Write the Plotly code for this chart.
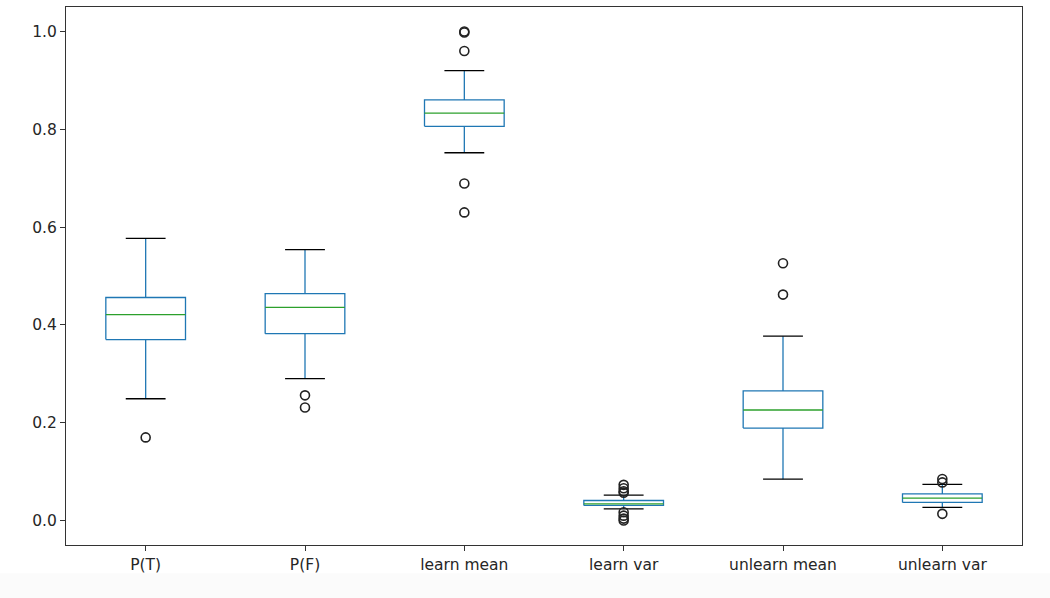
import plotly.graph_objects as go

categories = ["P(T)", "P(F)", "learn mean", "learn var", "unlearn mean", "unlearn var"]
q1 = [0.370, 0.382, 0.806, 0.031, 0.189, 0.037]
median = [0.421, 0.436, 0.833, 0.034, 0.226, 0.046]
q3 = [0.456, 0.464, 0.860, 0.041, 0.265, 0.0545]
lower_whisker = [0.249, 0.290, 0.752, 0.024, 0.0845, 0.027]
upper_whisker = [0.577, 0.554, 0.920, 0.052, 0.377, 0.074]
outliers = [
    [0.170],
    [0.256, 0.231],
    [1.000, 0.998, 0.960, 0.689, 0.630],
    [0.073, 0.066, 0.060, 0.057, 0.017, 0.010, 0.004, 0.000],
    [0.526, 0.462],
    [0.085, 0.078, 0.0137],
]
yticks = [0.0, 0.2, 0.4, 0.6, 0.8, 1.0]

positions = list(range(1, len(categories) + 1))
BOX_HALF = 0.25
CAP_HALF = 0.125
BLUE = "#1f77b4"
GREEN = "#2ca02c"
LW = 1.3

bx, by, mx, my, wx, wy, cx, cy, ox, oy = [], [], [], [], [], [], [], [], [], []
for i, p in enumerate(positions):
    bx += [p - BOX_HALF, p + BOX_HALF, p + BOX_HALF, p - BOX_HALF, p - BOX_HALF, None]
    by += [q1[i], q1[i], q3[i], q3[i], q1[i], None]
    mx += [p - BOX_HALF, p + BOX_HALF, None]
    my += [median[i], median[i], None]
    wx += [p, p, None, p, p, None]
    wy += [q1[i], lower_whisker[i], None, q3[i], upper_whisker[i], None]
    cx += [p - CAP_HALF, p + CAP_HALF, None, p - CAP_HALF, p + CAP_HALF, None]
    cy += [lower_whisker[i], lower_whisker[i], None, upper_whisker[i], upper_whisker[i], None]
    for v in outliers[i]:
        ox.append(p)
        oy.append(v)

fig = go.Figure()
fig.add_trace(go.Scatter(x=wx, y=wy, mode="lines", line=dict(color=BLUE, width=LW), hoverinfo="skip"))
fig.add_trace(go.Scatter(x=cx, y=cy, mode="lines", line=dict(color="black", width=LW), hoverinfo="skip"))
fig.add_trace(go.Scatter(x=bx, y=by, mode="lines", line=dict(color=BLUE, width=LW), hoverinfo="skip"))
fig.add_trace(go.Scatter(x=mx, y=my, mode="lines", line=dict(color=GREEN, width=LW), hoverinfo="skip"))
fig.add_trace(go.Scatter(x=ox, y=oy, mode="markers",
                         marker=dict(symbol="circle-open", size=9, color="#222222", line=dict(width=1.6)),
                         hoverinfo="skip"))

fig.update_layout(
    width=1050, height=598,
    margin=dict(l=66, r=28, t=7, b=53),
    paper_bgcolor="white", plot_bgcolor="white",
    showlegend=False,
    font=dict(family="DejaVu Sans", size=15.5, color="#262626"),
    shapes=[dict(type="rect", xref="paper", yref="paper", x0=-0.1, x1=1.1,
                 y0=-0.0525, y1=-0.12, fillcolor="#fbfbfb", line=dict(width=0), layer="below")],
)
fig.update_xaxes(range=[0.5, 6.5], tickvals=positions, ticktext=categories,
                 showgrid=False, zeroline=False, showline=True, mirror=True,
                 linecolor="#333333", linewidth=1.2, ticks="outside", ticklen=5,
                 tickcolor="#333333", tickwidth=1)
fig.update_yaxes(range=[-0.05, 1.05], tickvals=yticks, tickformat=".1f",
                 showgrid=False, zeroline=False, showline=True, mirror=True,
                 linecolor="#333333", linewidth=1.2, ticks="outside", ticklen=5,
                 tickcolor="#333333", tickwidth=1)

fig.write_html("out.html")
